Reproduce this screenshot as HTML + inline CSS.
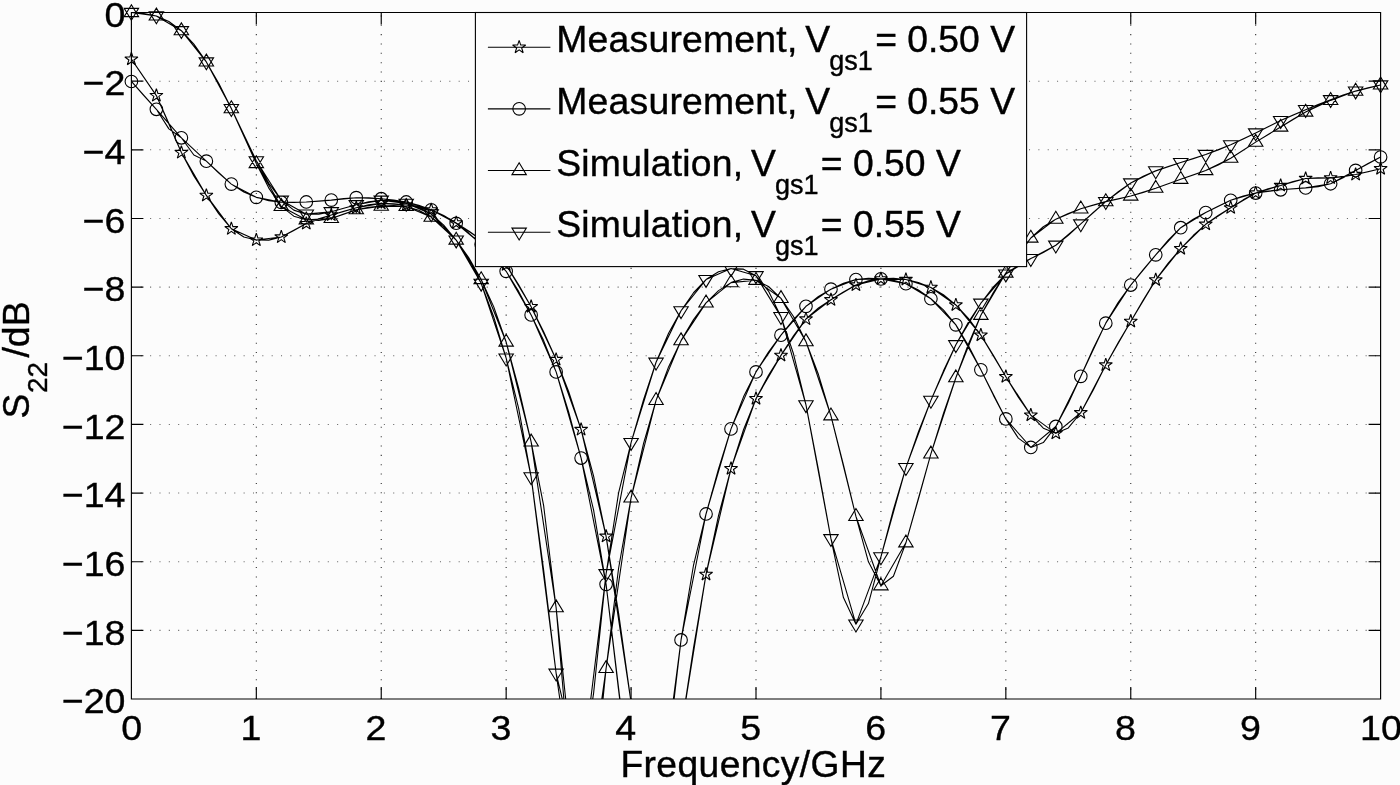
<!DOCTYPE html>
<html><head><meta charset="utf-8"><title>S22</title>
<style>html,body{margin:0;padding:0;background:#fcfcfc;}body{width:1400px;height:785px;overflow:hidden;font-family:"Liberation Sans",sans-serif;}svg{display:block;filter:grayscale(1);}</style>
</head><body>
<svg width="1400" height="785" viewBox="0 0 1400 785">
<defs><clipPath id="c"><rect x="131.4" y="12.5" width="1249.2" height="686.5"/></clipPath></defs>
<rect width="1400" height="785" fill="#fcfcfc"/>
<path d="M256.32 699V12.5M381.24 699V12.5M506.16 699V12.5M631.08 699V12.5M756 699V12.5M880.92 699V12.5M1005.84 699V12.5M1130.76 699V12.5M1255.68 699V12.5" fill="none" stroke="#000" stroke-width="1.05" stroke-dasharray="1.05 8.3" stroke-opacity="0.85"/>
<path d="M131.4 81.15H1380.6M131.4 149.8H1380.6M131.4 218.45H1380.6M131.4 287.1H1380.6M131.4 355.75H1380.6M131.4 424.4H1380.6M131.4 493.05H1380.6M131.4 561.7H1380.6M131.4 630.35H1380.6" fill="none" stroke="#000" stroke-width="1.05" stroke-dasharray="1.05 8.3" stroke-opacity="0.6"/>
<g clip-path="url(#c)"><path d="M131.4 59.18 L143.89 77.37 L156.38 95.57 L168.88 123.58 L181.37 152.55 L193.86 175.87 L206.35 195.45 L218.84 213.96 L231.34 228.75 L243.83 236.95 L256.32 240.07 L268.81 240.14 L281.3 236.99 L293.8 230.56 L306.29 223.6 L318.78 218.67 L331.27 215.02 L343.76 211.36 L356.26 207.81 L368.75 204.88 L381.24 203.35 L393.73 203.69 L406.22 205.06 L418.72 206.74 L431.21 209.87 L443.7 215.56 L456.19 222.91 L468.68 230.85 L481.18 239.73 L493.67 250.48 L506.16 264.79 L518.65 284.7 L531.14 306.67 L543.64 331.66 L556.13 359.53 L568.62 391.52 L581.11 429.55 L593.6 476.22 L606.1 536.3 L618.59 613.15 L631.08 702.43 L643.57 790.76 L656.06 836.3 L668.56 805.95 L681.05 729.89 L693.54 647.86 L706.03 574.4 L718.52 515.58 L731.02 468.68 L743.51 429.76 L756 398.66 L768.49 375.21 L780.98 355.41 L793.48 335.8 L805.97 319.02 L818.46 307.88 L830.95 299.8 L843.44 291.86 L855.94 285.04 L868.43 280.84 L880.92 278.86 L893.41 278.42 L905.9 279.55 L918.4 282.47 L930.89 287.44 L943.38 294.8 L955.87 304.95 L968.36 318.32 L980.86 335.16 L993.35 355.24 L1005.84 376.69 L1018.33 397.28 L1030.82 415.13 L1043.32 428.19 L1055.81 433.32 L1068.3 427.94 L1080.79 412.73 L1093.28 389.97 L1105.78 365.02 L1118.27 342.54 L1130.76 321.43 L1143.25 299.97 L1155.74 279.89 L1168.24 263.08 L1180.73 248.66 L1193.22 235.51 L1205.71 224.29 L1218.2 215.53 L1230.7 207.81 L1243.19 199.84 L1255.68 193.05 L1268.17 188.81 L1280.66 185.5 L1293.16 181.53 L1305.65 178.46 L1318.14 177.84 L1330.63 177.95 L1343.12 176.79 L1355.62 174.51 L1368.11 171.71 L1380.6 168.68M131.4 59.18 L156.38 95.57 L181.37 152.55 L206.35 195.45 L231.34 228.75 L256.32 240.07 L281.3 236.99 L306.29 223.6 L331.27 215.02 L356.26 207.81 L381.24 203.35 L406.22 205.06 L431.21 209.87 L456.19 222.91 L481.18 239.73 L506.16 264.79 L531.14 306.67 L556.13 359.53 L581.11 429.55 L606.1 536.3 L631.08 702.43 L656.06 836.3 L681.05 729.89 L706.03 574.4 L731.02 468.68 L756 398.66 L780.98 355.41 L805.97 319.02 L830.95 299.8 L855.94 285.04 L880.92 278.86 L905.9 279.55 L930.89 287.44 L955.87 304.95 L980.86 335.16 L1005.84 376.69 L1030.82 415.13 L1055.81 433.32 L1080.79 412.73 L1105.78 365.02 L1130.76 321.43 L1155.74 279.89 L1180.73 248.66 L1205.71 224.29 L1230.7 207.81 L1255.68 193.05 L1280.66 185.5 L1305.65 178.46 L1330.63 177.95 L1355.62 174.51 L1380.6 168.68M131.4 81.49 L143.89 95.57 L156.38 109.3 L168.88 128.86 L181.37 137.79 L193.86 154.95 L206.35 161.13 L218.84 173.17 L231.34 184.12 L243.83 192.08 L256.32 197.34 L268.81 200.66 L281.3 202.32 L293.8 202.54 L306.29 201.97 L318.78 201.18 L331.27 200.09 L343.76 198.67 L356.26 197.68 L368.75 197.82 L381.24 198.71 L393.73 199.95 L406.22 201.97 L418.72 205.29 L431.21 209.87 L443.7 215.67 L456.19 223.26 L468.68 233.04 L481.18 244.19 L493.67 256.23 L506.16 271.31 L518.65 291.39 L531.14 314.9 L543.64 340.58 L556.13 371.88 L568.62 411.95 L581.11 458.04 L593.6 510.05 L606.1 584.35 L618.59 690.16 L631.08 791.68 L643.57 846.75 L656.06 832.87 L668.56 746.46 L681.05 639.96 L693.54 565.01 L706.03 513.99 L718.52 468.83 L731.02 428.86 L743.51 396.85 L756 371.88 L768.49 352.05 L780.98 335.16 L793.48 319.59 L805.97 306.32 L818.46 296.48 L830.95 289.16 L843.44 283.34 L855.94 279.55 L868.43 278.35 L880.92 278.86 L893.41 280.31 L905.9 283.67 L918.4 289.97 L930.89 298.77 L943.38 309.79 L955.87 324.86 L968.36 345.5 L980.86 369.82 L993.35 395.13 L1005.84 418.91 L1018.33 438.11 L1030.82 447.4 L1043.32 442.58 L1055.81 426.46 L1068.3 403.3 L1080.79 376.35 L1093.28 348.59 L1105.78 323.14 L1118.27 302.3 L1130.76 285.04 L1143.25 269.62 L1155.74 254.83 L1168.24 240.2 L1180.73 227.72 L1193.22 219.13 L1205.71 212.61 L1218.2 206.13 L1230.7 200.26 L1243.19 195.95 L1255.68 193.05 L1268.17 191.11 L1280.66 189.79 L1293.16 188.77 L1305.65 187.9 L1318.14 186.76 L1330.63 183.78 L1343.12 177.78 L1355.62 170.4 L1368.11 163.47 L1380.6 157.01M131.4 81.49 L156.38 109.3 L181.37 137.79 L206.35 161.13 L231.34 184.12 L256.32 197.34 L281.3 202.32 L306.29 201.97 L331.27 200.09 L356.26 197.68 L381.24 198.71 L406.22 201.97 L431.21 209.87 L456.19 223.26 L481.18 244.19 L506.16 271.31 L531.14 314.9 L556.13 371.88 L581.11 458.04 L606.1 584.35 L631.08 791.68 L656.06 832.87 L681.05 639.96 L706.03 513.99 L731.02 428.86 L756 371.88 L780.98 335.16 L805.97 306.32 L830.95 289.16 L855.94 279.55 L880.92 278.86 L905.9 283.67 L930.89 298.77 L955.87 324.86 L980.86 369.82 L1005.84 418.91 L1030.82 447.4 L1055.81 426.46 L1080.79 376.35 L1105.78 323.14 L1130.76 285.04 L1155.74 254.83 L1180.73 227.72 L1205.71 212.61 L1230.7 200.26 L1255.68 193.05 L1280.66 189.79 L1305.65 187.9 L1330.63 183.78 L1355.62 170.4 L1380.6 157.01M131.4 12.5 L143.89 13.43 L156.38 15.93 L168.88 21.43 L181.37 30.69 L193.86 44.21 L206.35 61.93 L218.84 83.57 L231.34 108.61 L243.83 136.06 L256.32 163.53 L268.81 188.12 L281.3 206.44 L293.8 216.17 L306.29 219.82 L318.78 220.44 L331.27 218.45 L343.76 214.12 L356.26 209.7 L368.75 207.23 L381.24 206.09 L393.73 205.47 L406.22 206.44 L418.72 210.28 L431.21 217.08 L443.7 226.8 L456.19 240.07 L468.68 257.59 L481.18 279.55 L493.67 306.64 L506.16 342.02 L518.65 388.1 L531.14 441.91 L543.64 505.67 L556.13 607.7 L568.62 755.41 L581.11 846.6 L593.6 792.57 L606.1 668.45 L618.59 568.27 L631.08 497.86 L643.57 443.34 L656.06 400.37 L668.56 366.92 L681.05 340.65 L693.54 319.5 L706.03 302.89 L718.52 290.61 L731.02 282.64 L743.51 279.08 L756 280.24 L768.49 286.51 L780.98 298.43 L793.48 316.56 L805.97 341.68 L818.46 374.54 L830.95 415.82 L843.44 464.92 L855.94 516.39 L868.43 561.81 L880.92 585.73 L893.41 576.26 L905.9 542.82 L918.4 499.01 L930.89 453.92 L943.38 413.74 L955.87 377.72 L968.36 344.24 L980.86 315.25 L993.35 292.45 L1005.84 273.03 L1018.33 254.22 L1030.82 238.02 L1043.32 226.72 L1055.81 219.14 L1068.3 213.44 L1080.79 208.84 L1093.28 204.91 L1105.78 201.63 L1118.27 198.91 L1130.76 196.07 L1143.25 192.45 L1155.74 188.21 L1168.24 183.69 L1180.73 179.25 L1193.22 175.07 L1205.71 170.53 L1218.2 164.96 L1230.7 158.18 L1243.19 150.29 L1255.68 142.15 L1268.17 134.5 L1280.66 127.01 L1293.16 119.32 L1305.65 112.04 L1318.14 105.81 L1330.63 100.37 L1343.12 95.39 L1355.62 91.1 L1368.11 87.75 L1380.6 84.93M131.4 12.5 L156.38 15.93 L181.37 30.69 L206.35 61.93 L231.34 108.61 L256.32 163.53 L281.3 206.44 L306.29 219.82 L331.27 218.45 L356.26 209.7 L381.24 206.09 L406.22 206.44 L431.21 217.08 L456.19 240.07 L481.18 279.55 L506.16 342.02 L531.14 441.91 L556.13 607.7 L581.11 846.6 L606.1 668.45 L631.08 497.86 L656.06 400.37 L681.05 340.65 L706.03 302.89 L731.02 282.64 L756 280.24 L780.98 298.43 L805.97 341.68 L830.95 415.82 L855.94 516.39 L880.92 585.73 L905.9 542.82 L930.89 453.92 L955.87 377.72 L980.86 315.25 L1005.84 273.03 L1030.82 238.02 L1055.81 219.14 L1080.79 208.84 L1105.78 201.63 L1130.76 196.07 L1155.74 188.21 L1180.73 179.25 L1205.71 170.53 L1230.7 158.18 L1255.68 142.15 L1280.66 127.01 L1305.65 112.04 L1330.63 100.37 L1355.62 91.1 L1380.6 84.93M131.4 12.5 L143.89 13.42 L156.38 15.93 L168.88 21.44 L181.37 30.69 L193.86 44.16 L206.35 61.93 L218.84 83.75 L231.34 108.61 L243.83 135.06 L256.32 160.78 L268.81 183.28 L281.3 200.26 L293.8 210.14 L306.29 214.16 L318.78 214.17 L331.27 211.76 L343.76 208.32 L356.26 204.72 L368.75 201.74 L381.24 200.26 L393.73 200.94 L406.22 203.35 L418.72 207.21 L431.21 213.99 L443.7 225.11 L456.19 240.07 L468.68 258.62 L481.18 283.32 L493.67 316.71 L506.16 358.15 L518.65 408.4 L531.14 476.92 L543.64 570.07 L556.13 673.26 L568.62 760.09 L581.11 777.95 L593.6 693.12 L606.1 573.71 L618.59 492.92 L631.08 442.59 L643.57 399.6 L656.06 362.27 L668.56 333.24 L681.05 310.78 L693.54 292.75 L706.03 279.55 L718.52 271.81 L731.02 268.56 L743.51 269.15 L756 275.77 L768.49 291.09 L780.98 316.62 L793.48 353.79 L805.97 404.83 L818.46 469.73 L830.95 538.7 L843.44 597.54 L855.94 624.17 L868.43 603.57 L880.92 556.89 L893.41 509.54 L905.9 467.65 L918.4 431.91 L930.89 400.37 L943.38 371.1 L955.87 344.77 L968.36 322.32 L980.86 303.23 L993.35 286.92 L1005.84 274.06 L1018.33 265.12 L1030.82 258.61 L1043.32 252.58 L1055.81 245.22 L1068.3 235.32 L1080.79 223.94 L1093.28 212.53 L1105.78 201.63 L1118.27 191.6 L1130.76 182.99 L1143.25 176.2 L1155.74 170.88 L1168.24 166.48 L1180.73 162.53 L1193.22 158.64 L1205.71 154.5 L1218.2 149.92 L1230.7 144.79 L1243.19 139.07 L1255.68 132.95 L1268.17 126.68 L1280.66 120.59 L1293.16 114.94 L1305.65 109.64 L1318.14 104.55 L1330.63 99.69 L1343.12 95.12 L1355.62 91.1 L1368.11 87.81 L1380.6 84.93M131.4 12.5 L156.38 15.93 L181.37 30.69 L206.35 61.93 L231.34 108.61 L256.32 160.78 L281.3 200.26 L306.29 214.16 L331.27 211.76 L356.26 204.72 L381.24 200.26 L406.22 203.35 L431.21 213.99 L456.19 240.07 L481.18 283.32 L506.16 358.15 L531.14 476.92 L556.13 673.26 L581.11 777.95 L606.1 573.71 L631.08 442.59 L656.06 362.27 L681.05 310.78 L706.03 279.55 L731.02 268.56 L756 275.77 L780.98 316.62 L805.97 404.83 L830.95 538.7 L855.94 624.17 L880.92 556.89 L905.9 467.65 L930.89 400.37 L955.87 344.77 L980.86 303.23 L1005.84 274.06 L1030.82 258.61 L1055.81 245.22 L1080.79 223.94 L1105.78 201.63 L1130.76 182.99 L1155.74 170.88 L1180.73 162.53 L1205.71 154.5 L1230.7 144.79 L1255.68 132.95 L1280.66 120.59 L1305.65 109.64 L1330.63 99.69 L1355.62 91.1 L1380.6 84.93" fill="none" stroke="#000" stroke-width="1.1" stroke-linejoin="round"/></g>
<path d="M131.4 52.28 L132.95 57.05 L137.96 57.05 L133.91 60 L135.46 64.76 L131.4 61.82 L127.34 64.76 L128.89 60 L124.84 57.05 L129.85 57.05ZM156.38 88.67 L157.93 93.43 L162.95 93.43 L158.89 96.38 L160.44 101.15 L156.38 98.2 L152.33 101.15 L153.88 96.38 L149.82 93.43 L154.83 93.43ZM181.37 145.65 L182.92 150.41 L187.93 150.41 L183.87 153.36 L185.42 158.13 L181.37 155.18 L177.31 158.13 L178.86 153.36 L174.81 150.41 L179.82 150.41ZM206.35 188.55 L207.9 193.32 L212.91 193.32 L208.86 196.27 L210.41 201.03 L206.35 198.09 L202.3 201.03 L203.85 196.27 L199.79 193.32 L204.8 193.32ZM231.34 221.85 L232.89 226.62 L237.9 226.62 L233.84 229.56 L235.39 234.33 L231.34 231.38 L227.28 234.33 L228.83 229.56 L224.77 226.62 L229.79 226.62ZM256.32 233.17 L257.87 237.94 L262.88 237.94 L258.83 240.89 L260.38 245.66 L256.32 242.71 L252.26 245.66 L253.81 240.89 L249.76 237.94 L254.77 237.94ZM281.3 230.09 L282.85 234.85 L287.87 234.85 L283.81 237.8 L285.36 242.57 L281.3 239.62 L277.25 242.57 L278.8 237.8 L274.74 234.85 L279.75 234.85ZM306.29 216.7 L307.84 221.47 L312.85 221.47 L308.79 224.41 L310.34 229.18 L306.29 226.23 L302.23 229.18 L303.78 224.41 L299.73 221.47 L304.74 221.47ZM331.27 208.12 L332.82 212.89 L337.83 212.89 L333.78 215.83 L335.33 220.6 L331.27 217.65 L327.22 220.6 L328.77 215.83 L324.71 212.89 L329.72 212.89ZM356.26 200.91 L357.81 205.68 L362.82 205.68 L358.76 208.62 L360.31 213.39 L356.26 210.45 L352.2 213.39 L353.75 208.62 L349.69 205.68 L354.71 205.68ZM381.24 196.45 L382.79 201.21 L387.8 201.21 L383.75 204.16 L385.3 208.93 L381.24 205.98 L377.18 208.93 L378.73 204.16 L374.68 201.21 L379.69 201.21ZM406.22 198.16 L407.77 202.93 L412.79 202.93 L408.73 205.88 L410.28 210.65 L406.22 207.7 L402.17 210.65 L403.72 205.88 L399.66 202.93 L404.67 202.93ZM431.21 202.97 L432.76 207.74 L437.77 207.74 L433.71 210.68 L435.26 215.45 L431.21 212.5 L427.15 215.45 L428.7 210.68 L424.65 207.74 L429.66 207.74ZM456.19 216.01 L457.74 220.78 L462.75 220.78 L458.7 223.73 L460.25 228.49 L456.19 225.55 L452.14 228.49 L453.69 223.73 L449.63 220.78 L454.64 220.78ZM481.18 232.83 L482.73 237.6 L487.74 237.6 L483.68 240.55 L485.23 245.31 L481.18 242.37 L477.12 245.31 L478.67 240.55 L474.61 237.6 L479.63 237.6ZM506.16 257.89 L507.71 262.66 L512.72 262.66 L508.67 265.6 L510.22 270.37 L506.16 267.42 L502.1 270.37 L503.65 265.6 L499.6 262.66 L504.61 262.66ZM531.14 299.77 L532.69 304.53 L537.71 304.53 L533.65 307.48 L535.2 312.25 L531.14 309.3 L527.09 312.25 L528.64 307.48 L524.58 304.53 L529.59 304.53ZM556.13 352.63 L557.68 357.39 L562.69 357.39 L558.63 360.34 L560.18 365.11 L556.13 362.16 L552.07 365.11 L553.62 360.34 L549.57 357.39 L554.58 357.39ZM581.11 422.65 L582.66 427.42 L587.67 427.42 L583.62 430.36 L585.17 435.13 L581.11 432.18 L577.06 435.13 L578.61 430.36 L574.55 427.42 L579.56 427.42ZM606.1 529.4 L607.65 534.17 L612.66 534.17 L608.6 537.11 L610.15 541.88 L606.1 538.94 L602.04 541.88 L603.59 537.11 L599.53 534.17 L604.55 534.17ZM706.03 567.5 L707.58 572.27 L712.59 572.27 L708.54 575.21 L710.09 579.98 L706.03 577.04 L701.98 579.98 L703.53 575.21 L699.47 572.27 L704.48 572.27ZM731.02 461.78 L732.57 466.55 L737.58 466.55 L733.52 469.49 L735.07 474.26 L731.02 471.32 L726.96 474.26 L728.51 469.49 L724.45 466.55 L729.47 466.55ZM756 391.76 L757.55 396.52 L762.56 396.52 L758.51 399.47 L760.06 404.24 L756 401.29 L751.94 404.24 L753.49 399.47 L749.44 396.52 L754.45 396.52ZM780.98 348.51 L782.53 353.27 L787.55 353.27 L783.49 356.22 L785.04 360.99 L780.98 358.04 L776.93 360.99 L778.48 356.22 L774.42 353.27 L779.43 353.27ZM805.97 312.12 L807.52 316.89 L812.53 316.89 L808.47 319.84 L810.02 324.6 L805.97 321.66 L801.91 324.6 L803.46 319.84 L799.41 316.89 L804.42 316.89ZM830.95 292.9 L832.5 297.67 L837.51 297.67 L833.46 300.61 L835.01 305.38 L830.95 302.44 L826.9 305.38 L828.45 300.61 L824.39 297.67 L829.4 297.67ZM855.94 278.14 L857.49 282.91 L862.5 282.91 L858.44 285.86 L859.99 290.62 L855.94 287.68 L851.88 290.62 L853.43 285.86 L849.37 282.91 L854.39 282.91ZM880.92 271.96 L882.47 276.73 L887.48 276.73 L883.43 279.68 L884.98 284.44 L880.92 281.5 L876.86 284.44 L878.41 279.68 L874.36 276.73 L879.37 276.73ZM905.9 272.65 L907.45 277.42 L912.47 277.42 L908.41 280.36 L909.96 285.13 L905.9 282.18 L901.85 285.13 L903.4 280.36 L899.34 277.42 L904.35 277.42ZM930.89 280.54 L932.44 285.31 L937.45 285.31 L933.39 288.26 L934.94 293.03 L930.89 290.08 L926.83 293.03 L928.38 288.26 L924.33 285.31 L929.34 285.31ZM955.87 298.05 L957.42 302.82 L962.43 302.82 L958.38 305.76 L959.93 310.53 L955.87 307.58 L951.82 310.53 L953.37 305.76 L949.31 302.82 L954.32 302.82ZM980.86 328.26 L982.41 333.02 L987.42 333.02 L983.36 335.97 L984.91 340.74 L980.86 337.79 L976.8 340.74 L978.35 335.97 L974.29 333.02 L979.31 333.02ZM1005.84 369.79 L1007.39 374.56 L1012.4 374.56 L1008.35 377.5 L1009.9 382.27 L1005.84 379.32 L1001.78 382.27 L1003.33 377.5 L999.28 374.56 L1004.29 374.56ZM1030.82 408.23 L1032.37 413 L1037.39 413 L1033.33 415.95 L1034.88 420.71 L1030.82 417.77 L1026.77 420.71 L1028.32 415.95 L1024.26 413 L1029.27 413ZM1055.81 426.42 L1057.36 431.19 L1062.37 431.19 L1058.31 434.14 L1059.86 438.91 L1055.81 435.96 L1051.75 438.91 L1053.3 434.14 L1049.25 431.19 L1054.26 431.19ZM1080.79 405.83 L1082.34 410.6 L1087.35 410.6 L1083.3 413.54 L1084.85 418.31 L1080.79 415.37 L1076.74 418.31 L1078.29 413.54 L1074.23 410.6 L1079.24 410.6ZM1105.78 358.12 L1107.33 362.89 L1112.34 362.89 L1108.28 365.83 L1109.83 370.6 L1105.78 367.65 L1101.72 370.6 L1103.27 365.83 L1099.21 362.89 L1104.23 362.89ZM1130.76 314.53 L1132.31 319.29 L1137.32 319.29 L1133.27 322.24 L1134.82 327.01 L1130.76 324.06 L1126.7 327.01 L1128.25 322.24 L1124.2 319.29 L1129.21 319.29ZM1155.74 272.99 L1157.29 277.76 L1162.31 277.76 L1158.25 280.71 L1159.8 285.47 L1155.74 282.53 L1151.69 285.47 L1153.24 280.71 L1149.18 277.76 L1154.19 277.76ZM1180.73 241.76 L1182.28 246.52 L1187.29 246.52 L1183.23 249.47 L1184.78 254.24 L1180.73 251.29 L1176.67 254.24 L1178.22 249.47 L1174.17 246.52 L1179.18 246.52ZM1205.71 217.39 L1207.26 222.15 L1212.27 222.15 L1208.22 225.1 L1209.77 229.87 L1205.71 226.92 L1201.66 229.87 L1203.21 225.1 L1199.15 222.15 L1204.16 222.15ZM1230.7 200.91 L1232.25 205.68 L1237.26 205.68 L1233.2 208.62 L1234.75 213.39 L1230.7 210.45 L1226.64 213.39 L1228.19 208.62 L1224.13 205.68 L1229.15 205.68ZM1255.68 186.15 L1257.23 190.92 L1262.24 190.92 L1258.19 193.86 L1259.74 198.63 L1255.68 195.69 L1251.62 198.63 L1253.17 193.86 L1249.12 190.92 L1254.13 190.92ZM1280.66 178.6 L1282.21 183.37 L1287.23 183.37 L1283.17 186.31 L1284.72 191.08 L1280.66 188.13 L1276.61 191.08 L1278.16 186.31 L1274.1 183.37 L1279.11 183.37ZM1305.65 171.56 L1307.2 176.33 L1312.21 176.33 L1308.15 179.28 L1309.7 184.04 L1305.65 181.1 L1301.59 184.04 L1303.14 179.28 L1299.09 176.33 L1304.1 176.33ZM1330.63 171.05 L1332.18 175.81 L1337.19 175.81 L1333.14 178.76 L1334.69 183.53 L1330.63 180.58 L1326.58 183.53 L1328.13 178.76 L1324.07 175.81 L1329.08 175.81ZM1355.62 167.61 L1357.17 172.38 L1362.18 172.38 L1358.12 175.33 L1359.67 180.1 L1355.62 177.15 L1351.56 180.1 L1353.11 175.33 L1349.05 172.38 L1354.07 172.38ZM1380.6 161.78 L1382.15 166.55 L1387.16 166.55 L1383.11 169.49 L1384.66 174.26 L1380.6 171.31 L1376.54 174.26 L1378.09 169.49 L1374.04 166.55 L1379.05 166.55ZM125.1 81.49a6.3 6.3 0 1 0 12.6 0a6.3 6.3 0 1 0 -12.6 0ZM150.08 109.3a6.3 6.3 0 1 0 12.6 0a6.3 6.3 0 1 0 -12.6 0ZM175.07 137.79a6.3 6.3 0 1 0 12.6 0a6.3 6.3 0 1 0 -12.6 0ZM200.05 161.13a6.3 6.3 0 1 0 12.6 0a6.3 6.3 0 1 0 -12.6 0ZM225.04 184.12a6.3 6.3 0 1 0 12.6 0a6.3 6.3 0 1 0 -12.6 0ZM250.02 197.34a6.3 6.3 0 1 0 12.6 0a6.3 6.3 0 1 0 -12.6 0ZM275 202.32a6.3 6.3 0 1 0 12.6 0a6.3 6.3 0 1 0 -12.6 0ZM299.99 201.97a6.3 6.3 0 1 0 12.6 0a6.3 6.3 0 1 0 -12.6 0ZM324.97 200.09a6.3 6.3 0 1 0 12.6 0a6.3 6.3 0 1 0 -12.6 0ZM349.96 197.68a6.3 6.3 0 1 0 12.6 0a6.3 6.3 0 1 0 -12.6 0ZM374.94 198.71a6.3 6.3 0 1 0 12.6 0a6.3 6.3 0 1 0 -12.6 0ZM399.92 201.97a6.3 6.3 0 1 0 12.6 0a6.3 6.3 0 1 0 -12.6 0ZM424.91 209.87a6.3 6.3 0 1 0 12.6 0a6.3 6.3 0 1 0 -12.6 0ZM449.89 223.26a6.3 6.3 0 1 0 12.6 0a6.3 6.3 0 1 0 -12.6 0ZM474.88 244.19a6.3 6.3 0 1 0 12.6 0a6.3 6.3 0 1 0 -12.6 0ZM499.86 271.31a6.3 6.3 0 1 0 12.6 0a6.3 6.3 0 1 0 -12.6 0ZM524.84 314.9a6.3 6.3 0 1 0 12.6 0a6.3 6.3 0 1 0 -12.6 0ZM549.83 371.88a6.3 6.3 0 1 0 12.6 0a6.3 6.3 0 1 0 -12.6 0ZM574.81 458.04a6.3 6.3 0 1 0 12.6 0a6.3 6.3 0 1 0 -12.6 0ZM599.8 584.35a6.3 6.3 0 1 0 12.6 0a6.3 6.3 0 1 0 -12.6 0ZM674.75 639.96a6.3 6.3 0 1 0 12.6 0a6.3 6.3 0 1 0 -12.6 0ZM699.73 513.99a6.3 6.3 0 1 0 12.6 0a6.3 6.3 0 1 0 -12.6 0ZM724.72 428.86a6.3 6.3 0 1 0 12.6 0a6.3 6.3 0 1 0 -12.6 0ZM749.7 371.88a6.3 6.3 0 1 0 12.6 0a6.3 6.3 0 1 0 -12.6 0ZM774.68 335.16a6.3 6.3 0 1 0 12.6 0a6.3 6.3 0 1 0 -12.6 0ZM799.67 306.32a6.3 6.3 0 1 0 12.6 0a6.3 6.3 0 1 0 -12.6 0ZM824.65 289.16a6.3 6.3 0 1 0 12.6 0a6.3 6.3 0 1 0 -12.6 0ZM849.64 279.55a6.3 6.3 0 1 0 12.6 0a6.3 6.3 0 1 0 -12.6 0ZM874.62 278.86a6.3 6.3 0 1 0 12.6 0a6.3 6.3 0 1 0 -12.6 0ZM899.6 283.67a6.3 6.3 0 1 0 12.6 0a6.3 6.3 0 1 0 -12.6 0ZM924.59 298.77a6.3 6.3 0 1 0 12.6 0a6.3 6.3 0 1 0 -12.6 0ZM949.57 324.86a6.3 6.3 0 1 0 12.6 0a6.3 6.3 0 1 0 -12.6 0ZM974.56 369.82a6.3 6.3 0 1 0 12.6 0a6.3 6.3 0 1 0 -12.6 0ZM999.54 418.91a6.3 6.3 0 1 0 12.6 0a6.3 6.3 0 1 0 -12.6 0ZM1024.52 447.4a6.3 6.3 0 1 0 12.6 0a6.3 6.3 0 1 0 -12.6 0ZM1049.51 426.46a6.3 6.3 0 1 0 12.6 0a6.3 6.3 0 1 0 -12.6 0ZM1074.49 376.35a6.3 6.3 0 1 0 12.6 0a6.3 6.3 0 1 0 -12.6 0ZM1099.48 323.14a6.3 6.3 0 1 0 12.6 0a6.3 6.3 0 1 0 -12.6 0ZM1124.46 285.04a6.3 6.3 0 1 0 12.6 0a6.3 6.3 0 1 0 -12.6 0ZM1149.44 254.83a6.3 6.3 0 1 0 12.6 0a6.3 6.3 0 1 0 -12.6 0ZM1174.43 227.72a6.3 6.3 0 1 0 12.6 0a6.3 6.3 0 1 0 -12.6 0ZM1199.41 212.61a6.3 6.3 0 1 0 12.6 0a6.3 6.3 0 1 0 -12.6 0ZM1224.4 200.26a6.3 6.3 0 1 0 12.6 0a6.3 6.3 0 1 0 -12.6 0ZM1249.38 193.05a6.3 6.3 0 1 0 12.6 0a6.3 6.3 0 1 0 -12.6 0ZM1274.36 189.79a6.3 6.3 0 1 0 12.6 0a6.3 6.3 0 1 0 -12.6 0ZM1299.35 187.9a6.3 6.3 0 1 0 12.6 0a6.3 6.3 0 1 0 -12.6 0ZM1324.33 183.78a6.3 6.3 0 1 0 12.6 0a6.3 6.3 0 1 0 -12.6 0ZM1349.32 170.4a6.3 6.3 0 1 0 12.6 0a6.3 6.3 0 1 0 -12.6 0ZM1374.3 157.01a6.3 6.3 0 1 0 12.6 0a6.3 6.3 0 1 0 -12.6 0ZM131.4 4.7 L138.6 16.6 L124.2 16.6ZM156.38 8.13 L163.58 20.03 L149.18 20.03ZM181.37 22.89 L188.57 34.79 L174.17 34.79ZM206.35 54.13 L213.55 66.03 L199.15 66.03ZM231.34 100.81 L238.54 112.71 L224.14 112.71ZM256.32 155.73 L263.52 167.63 L249.12 167.63ZM281.3 198.64 L288.5 210.54 L274.1 210.54ZM306.29 212.02 L313.49 223.92 L299.09 223.92ZM331.27 210.65 L338.47 222.55 L324.07 222.55ZM356.26 201.9 L363.46 213.8 L349.06 213.8ZM381.24 198.29 L388.44 210.19 L374.04 210.19ZM406.22 198.64 L413.42 210.54 L399.02 210.54ZM431.21 209.28 L438.41 221.18 L424.01 221.18ZM456.19 232.27 L463.39 244.17 L448.99 244.17ZM481.18 271.75 L488.38 283.65 L473.98 283.65ZM506.16 334.22 L513.36 346.12 L498.96 346.12ZM531.14 434.11 L538.34 446.01 L523.94 446.01ZM556.13 599.9 L563.33 611.8 L548.93 611.8ZM606.1 660.65 L613.3 672.55 L598.9 672.55ZM631.08 490.06 L638.28 501.96 L623.88 501.96ZM656.06 392.57 L663.26 404.47 L648.86 404.47ZM681.05 332.85 L688.25 344.75 L673.85 344.75ZM706.03 295.09 L713.23 306.99 L698.83 306.99ZM731.02 274.84 L738.22 286.74 L723.82 286.74ZM756 272.44 L763.2 284.34 L748.8 284.34ZM780.98 290.63 L788.18 302.53 L773.78 302.53ZM805.97 333.88 L813.17 345.78 L798.77 345.78ZM830.95 408.02 L838.15 419.92 L823.75 419.92ZM855.94 508.59 L863.14 520.49 L848.74 520.49ZM880.92 577.93 L888.12 589.83 L873.72 589.83ZM905.9 535.02 L913.1 546.92 L898.7 546.92ZM930.89 446.12 L938.09 458.02 L923.69 458.02ZM955.87 369.92 L963.07 381.82 L948.67 381.82ZM980.86 307.45 L988.06 319.35 L973.66 319.35ZM1005.84 265.23 L1013.04 277.13 L998.64 277.13ZM1030.82 230.22 L1038.02 242.12 L1023.62 242.12ZM1055.81 211.34 L1063.01 223.24 L1048.61 223.24ZM1080.79 201.04 L1087.99 212.94 L1073.59 212.94ZM1105.78 193.83 L1112.98 205.73 L1098.58 205.73ZM1130.76 188.27 L1137.96 200.17 L1123.56 200.17ZM1155.74 180.41 L1162.94 192.31 L1148.54 192.31ZM1180.73 171.45 L1187.93 183.35 L1173.53 183.35ZM1205.71 162.73 L1212.91 174.63 L1198.51 174.63ZM1230.7 150.38 L1237.9 162.28 L1223.5 162.28ZM1255.68 134.35 L1262.88 146.25 L1248.48 146.25ZM1280.66 119.21 L1287.86 131.11 L1273.46 131.11ZM1305.65 104.24 L1312.85 116.14 L1298.45 116.14ZM1330.63 92.57 L1337.83 104.47 L1323.43 104.47ZM1355.62 83.3 L1362.82 95.2 L1348.42 95.2ZM1380.6 77.13 L1387.8 89.03 L1373.4 89.03ZM131.4 20.3 L138.6 8.4 L124.2 8.4ZM156.38 23.73 L163.58 11.83 L149.18 11.83ZM181.37 38.49 L188.57 26.59 L174.17 26.59ZM206.35 69.73 L213.55 57.83 L199.15 57.83ZM231.34 116.41 L238.54 104.51 L224.14 104.51ZM256.32 168.58 L263.52 156.68 L249.12 156.68ZM281.3 208.06 L288.5 196.16 L274.1 196.16ZM306.29 221.96 L313.49 210.06 L299.09 210.06ZM331.27 219.56 L338.47 207.66 L324.07 207.66ZM356.26 212.52 L363.46 200.62 L349.06 200.62ZM381.24 208.06 L388.44 196.16 L374.04 196.16ZM406.22 211.15 L413.42 199.25 L399.02 199.25ZM431.21 221.79 L438.41 209.89 L424.01 209.89ZM456.19 247.87 L463.39 235.97 L448.99 235.97ZM481.18 291.12 L488.38 279.22 L473.98 279.22ZM506.16 365.95 L513.36 354.05 L498.96 354.05ZM531.14 484.72 L538.34 472.82 L523.94 472.82ZM556.13 681.06 L563.33 669.16 L548.93 669.16ZM606.1 581.51 L613.3 569.61 L598.9 569.61ZM631.08 450.39 L638.28 438.49 L623.88 438.49ZM656.06 370.07 L663.26 358.17 L648.86 358.17ZM681.05 318.58 L688.25 306.68 L673.85 306.68ZM706.03 287.35 L713.23 275.45 L698.83 275.45ZM731.02 276.36 L738.22 264.46 L723.82 264.46ZM756 283.57 L763.2 271.67 L748.8 271.67ZM780.98 324.42 L788.18 312.52 L773.78 312.52ZM805.97 412.63 L813.17 400.73 L798.77 400.73ZM830.95 546.5 L838.15 534.6 L823.75 534.6ZM855.94 631.97 L863.14 620.07 L848.74 620.07ZM880.92 564.69 L888.12 552.79 L873.72 552.79ZM905.9 475.45 L913.1 463.55 L898.7 463.55ZM930.89 408.17 L938.09 396.27 L923.69 396.27ZM955.87 352.57 L963.07 340.67 L948.67 340.67ZM980.86 311.03 L988.06 299.13 L973.66 299.13ZM1005.84 281.86 L1013.04 269.96 L998.64 269.96ZM1030.82 266.41 L1038.02 254.51 L1023.62 254.51ZM1055.81 253.02 L1063.01 241.12 L1048.61 241.12ZM1080.79 231.74 L1087.99 219.84 L1073.59 219.84ZM1105.78 209.43 L1112.98 197.53 L1098.58 197.53ZM1130.76 190.79 L1137.96 178.89 L1123.56 178.89ZM1155.74 178.68 L1162.94 166.78 L1148.54 166.78ZM1180.73 170.33 L1187.93 158.43 L1173.53 158.43ZM1205.71 162.3 L1212.91 150.4 L1198.51 150.4ZM1230.7 152.59 L1237.9 140.69 L1223.5 140.69ZM1255.68 140.75 L1262.88 128.85 L1248.48 128.85ZM1280.66 128.39 L1287.86 116.49 L1273.46 116.49ZM1305.65 117.44 L1312.85 105.54 L1298.45 105.54ZM1330.63 107.49 L1337.83 95.59 L1323.43 95.59ZM1355.62 98.9 L1362.82 87 L1348.42 87ZM1380.6 92.73 L1387.8 80.83 L1373.4 80.83Z" fill="none" stroke="#000" stroke-width="1.1" stroke-linejoin="miter" stroke-miterlimit="2.5"/>
<path d="M131.4 12.5H1380.6V699H131.4ZM131.4 699v-12M131.4 12.5v12M256.32 699v-12M256.32 12.5v12M381.24 699v-12M381.24 12.5v12M506.16 699v-12M506.16 12.5v12M631.08 699v-12M631.08 12.5v12M756 699v-12M756 12.5v12M880.92 699v-12M880.92 12.5v12M1005.84 699v-12M1005.84 12.5v12M1130.76 699v-12M1130.76 12.5v12M1255.68 699v-12M1255.68 12.5v12M1380.6 699v-12M1380.6 12.5v12M131.4 12.5h12M1380.6 12.5h-12M131.4 81.15h12M1380.6 81.15h-12M131.4 149.8h12M1380.6 149.8h-12M131.4 218.45h12M1380.6 218.45h-12M131.4 287.1h12M1380.6 287.1h-12M131.4 355.75h12M1380.6 355.75h-12M131.4 424.4h12M1380.6 424.4h-12M131.4 493.05h12M1380.6 493.05h-12M131.4 561.7h12M1380.6 561.7h-12M131.4 630.35h12M1380.6 630.35h-12M131.4 699h12M1380.6 699h-12" fill="none" stroke="#000" stroke-width="1.15"/>
<g font-family="'Liberation Sans', sans-serif" font-size="36" fill="#000" stroke="#000" stroke-width="0.35">
<text transform="translate(125.5 26.8) scale(1.045 1)" text-anchor="end">0</text>
<text transform="translate(125.5 95.45) scale(1.045 1)" text-anchor="end">−2</text>
<text transform="translate(125.5 164.1) scale(1.045 1)" text-anchor="end">−4</text>
<text transform="translate(125.5 232.75) scale(1.045 1)" text-anchor="end">−6</text>
<text transform="translate(125.5 301.4) scale(1.045 1)" text-anchor="end">−8</text>
<text transform="translate(125.5 370.05) scale(1.045 1)" text-anchor="end">−10</text>
<text transform="translate(125.5 438.7) scale(1.045 1)" text-anchor="end">−12</text>
<text transform="translate(125.5 507.35) scale(1.045 1)" text-anchor="end">−14</text>
<text transform="translate(125.5 576) scale(1.045 1)" text-anchor="end">−16</text>
<text transform="translate(125.5 644.65) scale(1.045 1)" text-anchor="end">−18</text>
<text transform="translate(125.5 713.3) scale(1.045 1)" text-anchor="end">−20</text>
<text transform="translate(131.7 739.7) scale(1.045 1)" text-anchor="middle">0</text>
<text transform="translate(251.02 739.7) scale(1.045 1)" text-anchor="middle">1</text>
<text transform="translate(375.94 739.7) scale(1.045 1)" text-anchor="middle">2</text>
<text transform="translate(500.86 739.7) scale(1.045 1)" text-anchor="middle">3</text>
<text transform="translate(625.78 739.7) scale(1.045 1)" text-anchor="middle">4</text>
<text transform="translate(750.7 739.7) scale(1.045 1)" text-anchor="middle">5</text>
<text transform="translate(875.62 739.7) scale(1.045 1)" text-anchor="middle">6</text>
<text transform="translate(1000.54 739.7) scale(1.045 1)" text-anchor="middle">7</text>
<text transform="translate(1125.46 739.7) scale(1.045 1)" text-anchor="middle">8</text>
<text transform="translate(1250.38 739.7) scale(1.045 1)" text-anchor="middle">9</text>
<text transform="translate(1380.9 739.7) scale(1.045 1)" text-anchor="middle">10</text>
</g>
<g font-family="'Liberation Sans', sans-serif" font-size="37.2" fill="#000" stroke="#000" stroke-width="0.4">
<text x="620.4" y="776.8" letter-spacing="0.42">Frequency/GHz</text>
<text transform="translate(28.5 418.6) rotate(-90)">S</text>
<text transform="translate(46.7 393) rotate(-90)" font-size="28">22</text>
<text transform="translate(28.5 357.6) rotate(-90)" font-size="37.6">/dB</text>
</g>
<rect x="475.4" y="12.5" width="551.2" height="254.1" fill="#fcfcfc" stroke="#000" stroke-width="1.1"/>
<path d="M487.9 47.2H550.4M487.9 108.85H550.4M487.9 170.5H550.4M487.9 232.2H550.4" fill="none" stroke="#000" stroke-width="1.1"/>
<path d="M519.15 40.3 L520.7 45.07 L525.71 45.07 L521.66 48.01 L523.21 52.78 L519.15 49.84 L515.09 52.78 L516.64 48.01 L512.59 45.07 L517.6 45.07ZM512.85 108.85a6.3 6.3 0 1 0 12.6 0a6.3 6.3 0 1 0 -12.6 0ZM519.15 162.7 L526.35 174.6 L511.95 174.6ZM519.15 240 L526.35 228.1 L511.95 228.1Z" fill="none" stroke="#000" stroke-width="1.1" stroke-miterlimit="2.5"/>
<g font-family="'Liberation Sans', sans-serif" font-size="37.3" fill="#000" stroke="#000" stroke-width="0.4">
<text x="556.2" y="52.3"><tspan letter-spacing="0.25">Measurement,</tspan><tspan x="805.3">V</tspan><tspan font-size="27" dx="-1" dy="18.1">gs1</tspan><tspan dx="2.4" dy="-18.1">= 0.50 V</tspan></text>
<text x="556.2" y="113.95"><tspan letter-spacing="0.25">Measurement,</tspan><tspan x="805.3">V</tspan><tspan font-size="27" dx="-1" dy="18.1">gs1</tspan><tspan dx="2.4" dy="-18.1">= 0.55 V</tspan></text>
<text x="556.2" y="175.6"><tspan letter-spacing="0.25">Simulation,</tspan><tspan x="751">V</tspan><tspan font-size="27" dx="-1" dy="18.1">gs1</tspan><tspan dx="2.4" dy="-18.1">= 0.50 V</tspan></text>
<text x="556.2" y="237.3"><tspan letter-spacing="0.25">Simulation,</tspan><tspan x="751">V</tspan><tspan font-size="27" dx="-1" dy="18.1">gs1</tspan><tspan dx="2.4" dy="-18.1">= 0.55 V</tspan></text>
</g>
</svg>
</body></html>
